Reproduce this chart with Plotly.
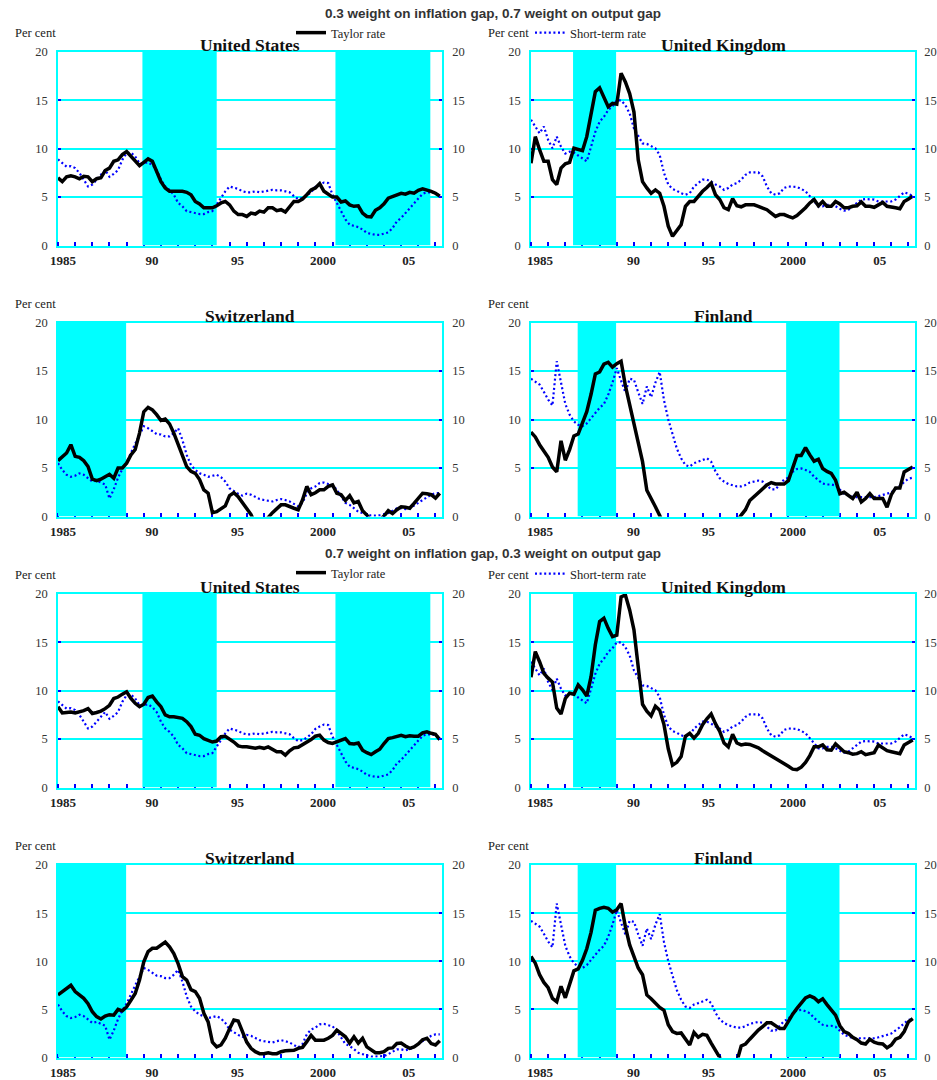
import plotly.graph_objects as go

# the figure fills the whole 937x1080 page (body margin removed after plotting)
W, H = 937, 1080

# ---------------- data (quarterly, 1985Q1 .. 2007Q2) ----------------
START_YEAR = 1985
N_Q = 90
quarters = [START_YEAR + k / 4 for k in range(N_Q)]

us_short = [
    8.9, 8.5, 8.15, 8.2,  8.0, 7.5, 6.8, 6.1,  6.3, 6.8, 7.2, 7.8,  7.1, 7.4, 7.8, 8.85,
    9.55, 9.6, 9.2, 8.5,  8.5, 8.6, 8.3, 7.8,  6.8, 6.1, 5.75, 5.25,  4.4, 4.05, 3.55, 3.45,
    3.35, 3.25, 3.25, 3.45,  3.55, 4.2, 4.9, 5.6,  6.1, 5.95, 5.85, 5.6,  5.5, 5.5, 5.6, 5.5,
    5.6, 5.7, 5.75, 5.7,  5.7, 5.6, 5.5, 5.1,  4.8, 4.9, 5.15, 5.5,  6.05, 6.3, 6.5, 6.45,
    5.25, 4.4, 3.55, 2.7,  2.15, 2.0, 1.9, 1.65,  1.3, 1.2, 1.1, 1.1,  1.2, 1.35, 1.8, 2.5,
    2.85, 3.35, 3.9, 4.4,  4.9, 5.35, 5.5, 5.5,  5.4, 5.15]

us_taylor_a = [
    7.0, 6.6, 7.1, 7.2,  7.1, 6.9, 7.15, 7.1,  6.6, 6.9, 7.0, 7.75,  8.0, 8.7, 8.85, 9.4,
    9.7, 9.2, 8.75, 8.25,  8.6, 8.95, 8.7, 7.65,  6.6, 5.95, 5.6, 5.6,  5.6, 5.6, 5.5, 5.25,
    4.55, 4.3, 3.9, 3.9,  3.9, 4.1, 4.4, 4.55,  4.2, 3.55, 3.2, 3.2,  3.0, 3.35, 3.25, 3.55,
    3.45, 3.9, 3.9, 3.6,  3.7, 3.45, 4.05, 4.55,  4.55, 4.8, 5.25, 5.75,  5.95, 6.4, 5.6, 5.25,
    5.0, 5.0, 4.5, 4.6,  4.2, 4.05, 4.1, 3.35,  3.0, 2.95, 3.65, 3.9,  4.3, 4.9, 5.1, 5.25,
    5.4, 5.3, 5.5, 5.4,  5.7, 5.85, 5.75, 5.6,  5.4, 5.1]

us_taylor_b = [
    8.35, 7.7, 7.75, 7.8,  7.7, 7.8, 7.95, 8.15,  7.65, 7.75, 7.9, 8.15,  8.5, 9.2, 9.35, 9.65,
    9.9, 9.2, 8.7, 8.35,  8.6, 9.3, 9.45, 8.85,  8.35, 7.5, 7.3, 7.3,  7.2, 7.15, 6.8, 6.3,
    5.5, 5.4, 5.05, 4.9,  4.7, 4.8, 5.25, 5.3,  5.05, 4.7, 4.3, 4.2,  4.2, 4.15, 4.05, 4.15,
    4.05, 4.2, 3.95, 3.7,  3.7, 3.35, 3.8, 4.1,  4.15, 4.4, 4.6, 4.95,  5.3, 5.4, 4.9, 4.65,
    4.55, 4.7, 4.9, 5.05,  4.55, 4.5, 4.6, 3.85,  3.6, 3.4, 3.7, 3.95,  4.55, 5.05, 5.15, 5.3,
    5.4, 5.25, 5.35, 5.3,  5.3, 5.65, 5.75, 5.6,  5.5, 4.95]

uk_short = [
    13.0, 12.3, 11.6, 12.3,  10.9, 10.05, 11.25, 10.2,  9.5, 9.7, 9.6, 9.3,  9.0, 8.7, 10.2, 11.75,
    12.8, 13.3, 14.0, 14.4,  15.0, 15.0, 14.5, 13.65,  12.1, 11.25, 10.55, 10.5,  10.3, 10.05, 9.35, 7.5,
    6.3, 5.85, 5.65, 5.4,  5.25, 5.4, 6.1, 6.45,  6.8, 6.8, 6.6, 6.3,  6.1, 5.75, 5.95, 6.3,
    6.45, 6.8, 7.3, 7.55,  7.55, 7.55, 7.15, 6.1,  5.4, 5.25, 5.4, 5.95,  6.1, 6.1, 6.05, 5.85,
    5.6, 5.1, 4.55, 4.05,  4.05, 4.2, 4.2, 4.05,  3.8, 3.6, 3.7, 4.05,  4.4, 4.75, 4.8, 4.8,
    4.75, 4.55, 4.55, 4.55,  4.55, 4.75, 5.1, 5.5,  5.35, 5.1]

uk_taylor_a = [
    8.5, 11.25, 9.9, 8.7,  8.7, 6.8, 6.3, 8.0,  8.45, 8.6, 10.05, 9.95,  9.8, 11.25, 13.5, 15.9,
    16.3, 15.35, 14.35, 14.7,  14.6, 17.8, 16.9, 15.7,  13.8, 8.85, 6.6, 5.95,  5.4, 5.75, 5.4, 4.05,
    2.0, 0.95, 1.5, 2.15,  4.05, 4.55, 4.55, 5.1,  5.6, 6.0, 6.45, 5.25,  4.75, 3.9, 3.7, 4.85,
    4.1, 4.0, 4.2, 4.2,  4.2, 4.05, 3.9, 3.7,  3.35, 3.0, 3.2, 3.2,  3.0, 2.85, 3.1, 3.45,
    3.9, 4.4, 4.75, 4.1,  4.55, 4.05, 4.05, 4.55,  4.3, 3.9, 3.9, 4.05,  4.1, 4.5, 4.05, 4.05,
    3.95, 4.2, 4.45, 4.05,  4.0, 3.9, 3.8, 4.55,  4.8, 5.1]

uk_taylor_b = [
    11.4, 14.05, 13.0, 11.8,  11.3, 10.9, 8.2, 7.6,  9.2, 9.75, 9.65, 10.6,  10.1, 9.45, 11.45, 14.75,
    17.15, 17.5, 16.45, 15.6,  15.75, 19.7, 19.9, 18.35,  16.3, 12.15, 8.6, 7.9,  7.4, 8.4, 8.0, 6.5,
    4.0, 2.3, 2.6, 3.2,  5.3, 5.6, 5.1, 5.6,  6.5, 7.1, 7.6, 6.6,  5.8, 4.6, 4.2, 5.5,
    4.6, 4.4, 4.5, 4.45,  4.3, 4.1, 3.8, 3.55,  3.3, 3.0, 2.8, 2.55,  2.2, 1.9, 1.85, 2.1,
    2.6, 3.3, 4.2, 4.2,  4.4, 3.9, 3.85, 4.5,  4.1, 3.7, 3.6, 3.45,  3.5, 3.7, 3.4, 3.5,
    3.6, 4.4, 4.1, 3.8,  3.7, 3.6, 3.5, 4.4,  4.6, 4.9]

ch_short = [
    5.5, 4.8, 4.3, 4.1,  4.2, 4.45, 4.3, 3.95,  3.6, 3.7, 3.5, 3.3,  1.85, 2.8, 4.0, 4.9,
    5.6, 6.6, 7.5, 8.4,  9.3, 9.1, 8.8, 8.5,  8.45, 8.25, 8.25, 8.6,  9.1, 7.9, 6.35, 5.3,
    4.8, 4.45, 4.3, 4.1,  4.2, 4.3, 4.05, 3.6,  2.9, 2.6, 2.35, 2.15,  2.35, 2.25, 2.0, 1.8,
    1.7, 1.6, 1.55, 1.7,  1.8, 1.7, 1.55, 1.3,  1.05, 1.4, 2.4, 2.9,  3.1, 3.45, 3.5, 3.35,
    3.25, 2.75, 2.05, 1.4,  1.2, 0.85, 0.5, 0.35,  0.2, 0.1, 0.1, 0.1,  0.15, 0.35, 0.6, 0.85,
    0.85, 0.75, 0.85, 1.1,  1.4, 1.7, 2.0, 2.25,  2.4, 2.4]

ch_taylor_a = [
    5.75, 6.2, 6.55, 7.4,  6.2, 6.1, 5.75, 5.15,  3.85, 3.7, 3.85, 4.1,  4.35, 3.95, 5.0, 5.0,
    5.5, 6.35, 6.9, 8.6,  10.8, 11.25, 11.0, 10.5,  9.9, 10.05, 9.55, 8.6,  7.4, 6.2, 5.15, 4.65,
    4.45, 3.8, 2.75, 2.4,  0.4, 0.5, 0.85, 1.1,  2.15, 2.45, 2.05, 1.4,  0.7, 0.2, -0.8, -1.2,
    -0.8, -0.1, 0.4, 0.8,  1.2, 1.2, 1.0, 0.85,  0.7, 1.7, 3.1, 2.25,  2.45, 2.75, 2.75, 3.1,
    3.25, 2.4, 2.25, 1.65,  2.15, 1.4, 1.55, 0.6,  0.15, -0.5, -0.8, -0.4,  0.05, 0.6, 0.3, 0.7,
    1.0, 0.95, 0.85, 1.35,  1.9, 2.4, 2.35, 2.25,  1.9, 2.4]

ch_taylor_b = [
    6.5, 6.85, 7.2, 7.5,  6.85, 6.5, 6.15, 5.6,  4.75, 4.25, 4.0, 4.3,  4.45, 4.4, 5.0, 4.85,
    5.25, 5.95, 6.65, 8.05,  9.95, 11.0, 11.35, 11.35,  11.7, 12.0, 11.5, 10.8,  9.75, 8.4, 8.05, 7.05,
    6.85, 6.15, 4.6, 3.7,  1.6, 1.1, 1.3, 2.0,  3.0, 3.9, 3.8, 2.65,  1.6, 0.95, 0.6, 0.4,
    0.4, 0.5, 0.4, 0.4,  0.6, 0.7, 0.75, 0.75,  0.95, 1.05, 1.65, 2.3,  1.8, 1.8, 1.8, 2.0,
    2.3, 2.85, 2.5, 2.15,  1.5, 2.15, 1.5, 2.0,  1.1, 0.75, 0.5, 0.5,  0.6, 0.95, 1.0, 1.45,
    1.5, 1.2, 0.95, 1.1,  1.4, 1.85, 2.0, 1.45,  1.3, 1.75]

fi_short = [
    14.2, 13.9, 13.6, 12.85,  12.05, 11.45, 16.0, 13.8,  11.6, 10.5, 9.8, 9.45,  9.3, 9.6, 10.15, 10.65,
    11.2, 11.6, 12.55, 13.8,  15.3, 14.0, 12.8, 14.2,  14.1, 12.8, 11.6, 13.4,  12.3, 13.8, 14.9, 12.0,
    10.0, 8.5, 7.0, 6.0,  5.3, 5.15, 5.5, 5.65,  5.85, 6.0, 5.65, 4.65,  3.95, 3.6, 3.35, 3.2,
    3.1, 3.1, 3.25, 3.5,  3.6, 3.7, 3.6, 3.15,  2.8, 2.8, 3.25, 3.8,  4.0, 4.6, 4.9, 4.95,
    4.8, 4.6, 4.1, 3.75,  3.4, 3.3, 3.3, 3.2,  2.8, 2.35, 2.2, 2.0,  2.0, 2.0, 2.0, 2.0,
    2.0, 2.1, 2.2, 2.35,  2.5, 2.8, 3.15, 3.55,  3.9, 4.0]

fi_taylor_a = [
    8.7, 8.2, 7.4, 6.8,  6.1, 5.1, 4.6, 7.8,  5.8, 6.9, 8.3, 8.5,  9.6, 10.8, 12.6, 14.7,
    14.9, 15.7, 15.9, 15.4,  15.75, 16.0, 13.5, 11.6,  9.8, 7.9, 5.65, 2.7,  1.9, 1.0, 0.1, -1.0,
    -2.0, -3.0, -3.5, -4.0,  -4.0, -4.0, -4.0, -4.0,  -4.0, -3.5, -3.0, -3.0,  -2.5, -2.0, -1.5, -1.0,
    -0.5, 0.15, 0.7, 1.65,  2.05, 2.4, 2.8, 3.25,  3.5, 3.35, 3.35, 3.35,  3.7, 5.0, 6.3, 6.3,
    7.1, 6.35, 5.7, 5.9,  4.95, 4.65, 4.45, 3.75,  2.35, 2.5, 2.2, 1.85,  2.5, 1.5, 1.85, 2.35,
    1.85, 1.85, 1.85, 0.95,  2.25, 2.95, 2.95, 4.6,  4.9, 5.1]

fi_taylor_b = [
    10.5, 9.8, 8.6, 7.8,  7.25, 6.15, 5.8, 7.4,  6.2, 7.6, 9.0, 9.2,  10.1, 11.3, 13.0, 15.3,
    15.5, 15.6, 15.5, 15.1,  15.35, 16.0, 13.6, 11.7,  10.4, 9.3, 8.6, 6.5,  6.1, 5.6, 5.2, 4.9,
    3.4, 2.7, 2.5, 2.55,  1.9, 1.3, 2.6, 2.1,  2.4, 2.3, 1.5, 0.8,  0.0, -1.0, -1.5, -1.0,
    -0.4, 1.2, 1.4, 1.9,  2.4, 2.85, 3.2, 3.6,  3.6, 3.3, 3.0, 3.0,  3.8, 4.5, 5.1, 5.6,
    6.2, 6.4, 6.2, 5.8,  6.1, 5.5, 4.9, 4.4,  3.3, 2.7, 2.5, 2.1,  1.85, 1.5, 1.4, 1.9,
    1.6, 1.45, 1.4, 1.0,  1.3, 1.9, 2.1, 2.7,  3.7, 4.05]

# shaded periods (start, end) in decimal years
us_shade = [(1989.92, 1994.25), (2001.17, 2006.7)]
uk_shade = [(1987.45, 1989.96)]
ch_shade = [(1985.0, 1988.97)]
fi_shade = [(1987.72, 1989.96), (1999.87, 2002.98)]

Y_MAX = 20
x_ticktext = ["1985", "90", "95", "2000", "05"]

section_titles = ["0.3 weight on inflation gap, 0.7 weight on output gap",
                  "0.7 weight on inflation gap, 0.3 weight on output gap"]
taylor_name = "Taylor rate"
short_name = "Short-term rate"

panels = [
    ("United States", us_taylor_a, us_short, us_shade),
    ("United Kingdom", uk_taylor_a, uk_short, uk_shade),
    ("Switzerland", ch_taylor_a, ch_short, ch_shade),
    ("Finland", fi_taylor_a, fi_short, fi_shade),
    ("United States", us_taylor_b, us_short, us_shade),
    ("United Kingdom", uk_taylor_b, uk_short, uk_shade),
    ("Switzerland", ch_taylor_b, ch_short, ch_shade),
    ("Finland", fi_taylor_b, fi_short, fi_shade),
]

# ---------------- layout geometry (page pixels) ----------------
COLS = [(58, 442), (531, 915)]
ROWS = [(52, 245.5), (322.5, 516.5), (594, 787.5), (865, 1057.5)]
TICKVALS = [[1985.29, 1990.48, 1995.46, 2000.44, 2005.44],
            [1985.53, 1990.97, 1995.35, 2000.27, 2005.33]]
RIGHT_STANDOFF = [6, 5]


def px(x):
    return x / W


def py(y):
    return 1 - y / H


CYAN = "#00ffff"
BLUE = "#0000ff"
SERIF = "Liberation Serif"

fig = go.Figure()
layout = dict(template="none", width=W, height=H, autosize=False,
              margin=dict(l=0, r=0, t=0, b=0, pad=0),
              paper_bgcolor="white", plot_bgcolor="white",
              font=dict(family=SERIF, size=12, color="#222"),
              annotations=[])

for i, (title, taylor, short, shade) in enumerate(panels, start=1):
    r, c = divmod(i - 1, 2)
    x0, x1 = COLS[c]
    y0, y1 = ROWS[r]
    xn = "x" if i == 1 else f"x{i}"
    yn = "y" if i == 1 else f"y{i}"
    yrn = f"y{i + 8}"

    # shaded periods
    sx, sy = [], []
    for s, e in shade:
        sx += [s, s, e, e, s, None]
        sy += [0, Y_MAX, Y_MAX, 0, 0, None]
    fig.add_trace(go.Scatter(x=sx, y=sy, fill="toself", fillcolor=CYAN, mode="lines",
                             line=dict(width=0, color=CYAN), hoverinfo="skip",
                             showlegend=False, xaxis=xn, yaxis=yn))
    # short-term rate
    fig.add_trace(go.Scatter(x=quarters, y=short, mode="lines", name=short_name,
                             line=dict(color=BLUE, width=2.2, dash="2px,2.6px"),
                             showlegend=(i in (2, 6)),
                             legend="legend2" if i == 2 else "legend4",
                             xaxis=xn, yaxis=yn))
    # Taylor rate (on right overlay axis so it is drawn on top)
    fig.add_trace(go.Scatter(x=quarters, y=taylor, mode="lines", name=taylor_name,
                             line=dict(color="black", width=3.5),
                             showlegend=(i in (1, 5)),
                             legend="legend" if i == 1 else "legend3",
                             xaxis=xn, yaxis=yrn))

    xkey = "xaxis" if i == 1 else f"xaxis{i}"
    ykey = "yaxis" if i == 1 else f"yaxis{i}"
    layout[xkey] = dict(domain=[px(x0), px(x1)], anchor=yn, range=[1985, 2007.38],
                        automargin=False,
                        showline=True, linecolor=CYAN, linewidth=1.5, mirror=True,
                        showgrid=False, zeroline=False, layer="below traces",
                        tickmode="array", tickvals=TICKVALS[c], ticktext=x_ticktext,
                        ticks="", ticklabelstandoff=2,
                        tickfont=dict(family=SERIF, size=13, color="#222", weight="bold"),
                        minor=dict(ticks="inside", tickmode="linear", tick0=1985, dtick=1,
                                   ticklen=4, tickwidth=1.5, tickcolor=BLUE, showgrid=False))
    layout[ykey] = dict(domain=[py(y1), py(y0)], anchor=xn, range=[0, Y_MAX],
                        automargin=False,
                        tickvals=[0, 5, 10, 15, 20], showgrid=True, gridcolor=CYAN,
                        gridwidth=1.5, zeroline=False, showline=True, linecolor=CYAN,
                        linewidth=1.5, ticks="inside", ticklen=3, tickwidth=1.5,
                        tickcolor=BLUE, ticklabelstandoff=6, layer="below traces",
                        tickfont=dict(family=SERIF, size=12.5, color="#333"))
    layout[f"yaxis{i + 8}"] = dict(overlaying=yn, anchor=xn, side="right", range=[0, Y_MAX],
                                   automargin=False,
                                   tickvals=[0, 5, 10, 15, 20], showgrid=False, zeroline=False,
                                   showline=True, linecolor=CYAN, linewidth=1.5,
                                   ticks="inside", ticklen=3, tickwidth=1.5, tickcolor=BLUE,
                                   ticklabelstandoff=RIGHT_STANDOFF[c],
                                   tickfont=dict(family=SERIF, size=12.5, color="#333"))

    # subplot title
    layout["annotations"].append(dict(text=f"<b>{title}</b>", x=px((x0 + x1) / 2), y=py(y0 - 7),
                                      xref="paper", yref="paper", xanchor="center",
                                      yanchor="middle", showarrow=False,
                                      font=dict(family=SERIF, size=17.5, color="#111")))
    # "Per cent"
    layout["annotations"].append(dict(text="Per cent", x=px(x0), y=py(y0 - 19),
                                      xref="paper", yref="paper", xanchor="right",
                                      yanchor="middle", showarrow=False,
                                      font=dict(family=SERIF, size=12.5, color="#222")))

for t, yy in zip(section_titles, (14, 553)):
    layout["annotations"].append(dict(text=f"<b>{t}</b>", x=px(492.7), y=py(yy),
                                      xref="paper", yref="paper", xanchor="center",
                                      yanchor="middle", showarrow=False,
                                      font=dict(family="Liberation Sans", size=13.5, color="#333")))

leg_common = dict(xref="paper", yref="paper", xanchor="left", yanchor="middle",
                  bgcolor="rgba(0,0,0,0)", borderwidth=0, itemwidth=30,
                  font=dict(family=SERIF, size=12.5, color="#222"))
layout["legend"] = dict(x=px(291), y=py(33), **leg_common)
layout["legend2"] = dict(x=px(530), y=py(33), **leg_common)
layout["legend3"] = dict(x=px(291), y=py(573), **leg_common)
layout["legend4"] = dict(x=px(530), y=py(574), **leg_common)

fig.update_layout(**layout)
fig.write_html("out.html", config={"displayModeBar": False},
               post_script="document.body.style.margin='0';document.body.style.overflow='hidden';")
